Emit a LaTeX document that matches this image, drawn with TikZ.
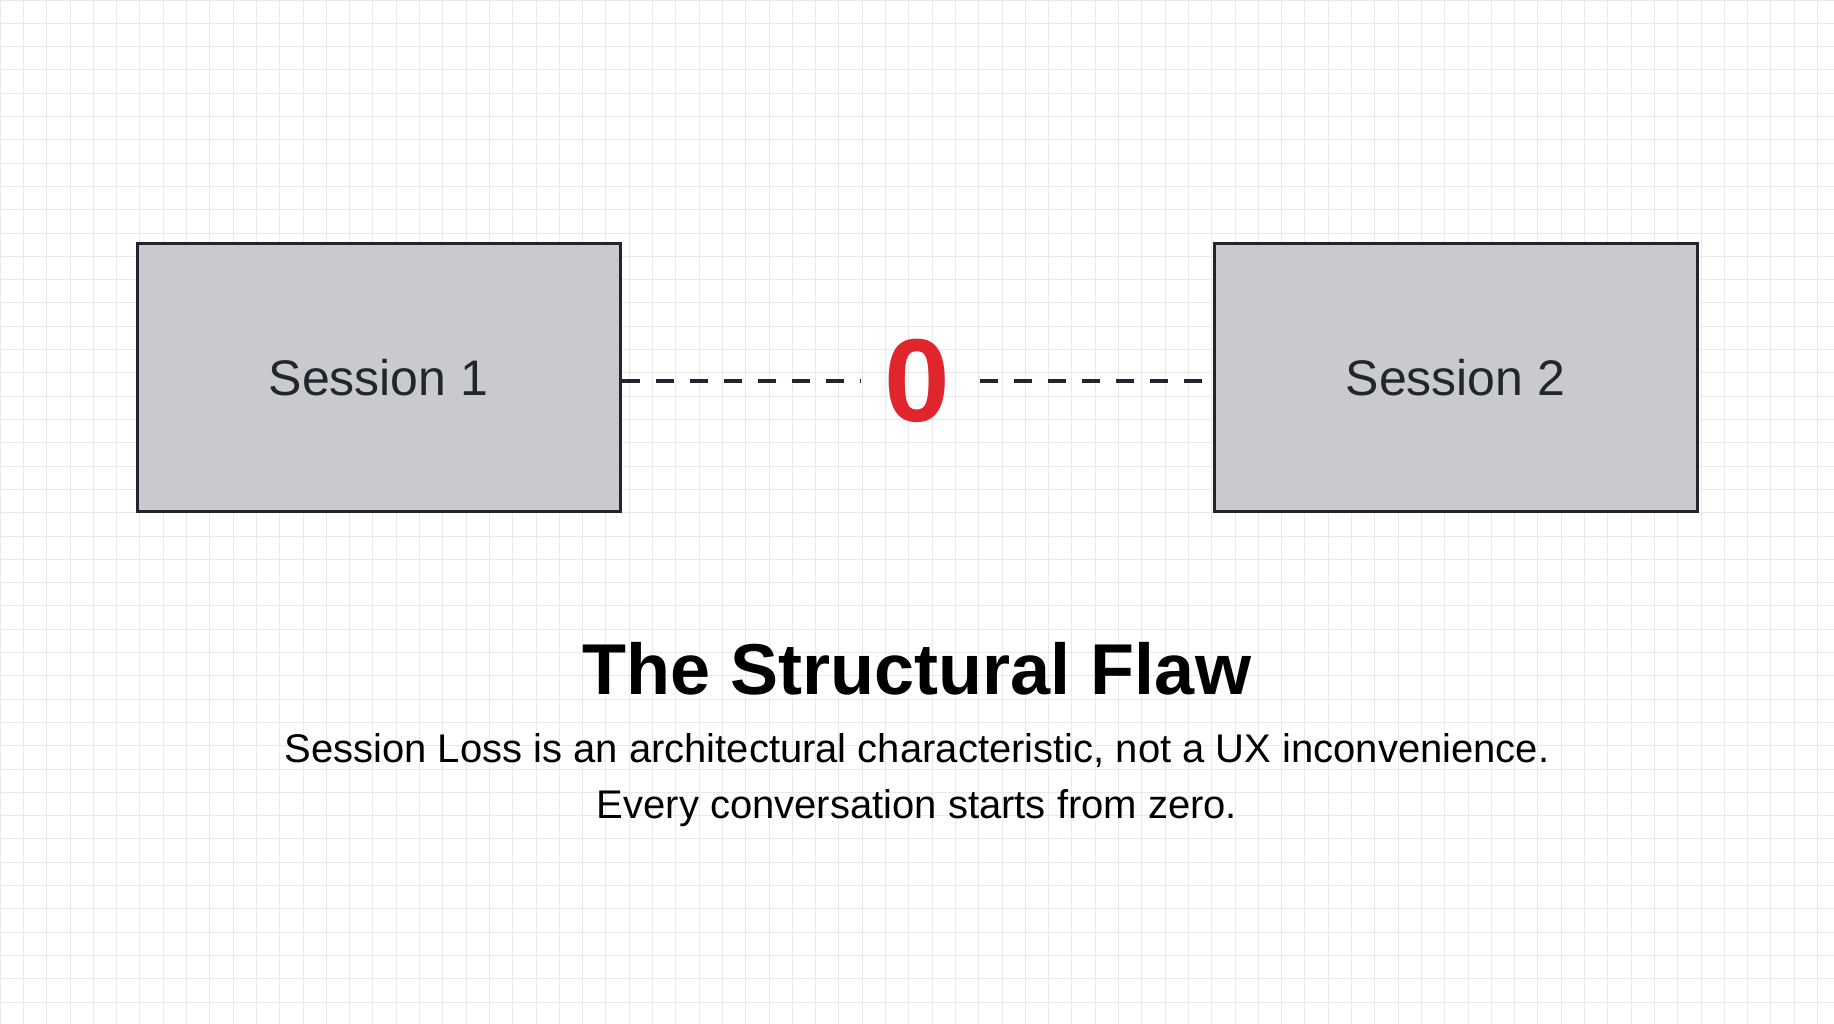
\documentclass[tikz,border=0pt]{standalone}
\usepackage{fontspec}
\setmainfont{Liberation Sans}
\definecolor{gridc}{HTML}{E9E9EC}
\definecolor{boxfill}{HTML}{C8CACE}
\definecolor{ink}{HTML}{22262C}
\definecolor{zred}{HTML}{E0262C}
\tikzset{
  sessbox/.style={draw=ink, line width=3pt, fill=boxfill, minimum width=483pt, minimum height=267pt, inner sep=0pt, font=\fontsize{50}{60}\selectfont, text=ink},
  dashline/.style={draw=ink, line width=4pt, dash pattern=on 18pt off 16pt}
}
\begin{document}
\begin{tikzpicture}[x=1pt,y=-1pt]
\fill[white] (0,0) rectangle (1834,1024);
\useasboundingbox (0,0) rectangle (1834,1024);
\draw[gridc, line width=0.8pt, step=23.3pt] (0,0) grid (1834,1024);
\node[sessbox] (s1) at (378.5,377.5) {Session 1};
\node[sessbox] (s2) at (1455.5,377.5) {Session 2};
\node[text=zred, font=\bfseries\fontsize{118}{120}\selectfont, inner sep=0pt] (z) at (917,381) {0};
\coordinate (l1) at (860,381);
\coordinate (r1) at (980,381);
\draw[dashline] (s1.east |- l1) -- (l1);
\draw[dashline] (r1) -- (s2.west |- r1);
\node[font=\bfseries\fontsize{72}{80}\selectfont, text=black] (t) at (917,669) {The Structural Flaw};
\node[font=\fontsize{40}{56}\selectfont, text=black, align=center] (st) at (917,780) {Session Loss is an architectural characteristic, not a UX inconvenience.\\Every conversation starts from zero.};
\end{tikzpicture}
\end{document}
